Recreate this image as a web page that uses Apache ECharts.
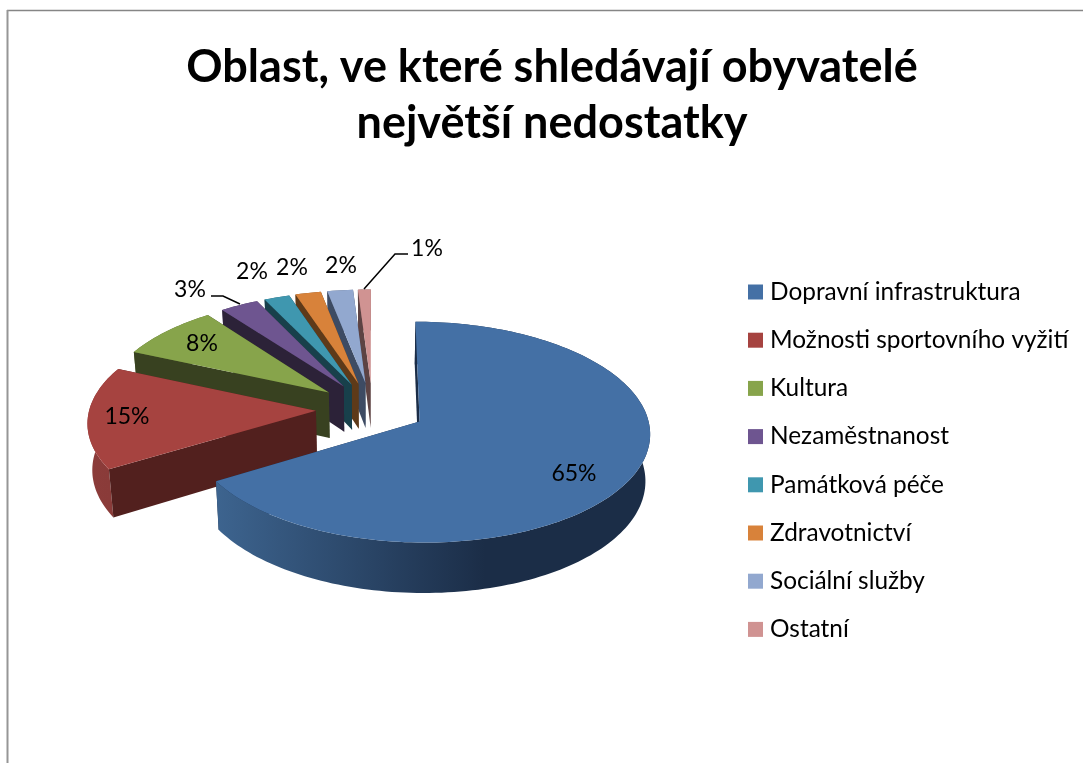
<!DOCTYPE html>
<html>
<head>
<meta charset="utf-8">
<title>Oblast nedostatků</title>
<style>
  html, body { margin: 0; padding: 0; background: #fff; }
  #chart-wrap { width: 1083px; height: 763px; }
</style>
<script src="https://cdn.jsdelivr.net/npm/echarts@6/dist/echarts.min.js"></script>
</head>
<body>
<div id="chart-wrap"></div>
<script>
var categories = ['Dopravní infrastruktura', 'Možnosti sportovního vyžití', 'Kultura', 'Nezaměstnanost', 'Památková péče', 'Zdravotnictví', 'Sociální služby', 'Ostatní'];
var values = [65, 15, 8, 3, 2, 2, 2, 1];
var labels = ['65%', '15%', '8%', '3%', '2%', '2%', '2%', '1%'];

var topColors = ['#4470a5', '#a64340', '#87a44b', '#6e5590', '#3f97af', '#d8823a', '#92a8cf', '#d09392'];
var faceColors = ['#1b2d47', '#52201e', '#384120', '#2c2238', '#18404b', '#5e3a19', '#3d4b63', '#5d4343'];
var arcLeftColors = ['#3d648f', '#8c3c3a', '#56692f', '#46365c', '#286070', '#8a5325', '#5d6b84', '#855e5d'];
var arcRightColors = ['#1b2d47', '#8a3b39', '#56692f', '#46365c', '#286070', '#8a5325', '#5d6b84', '#855e5d'];

// label centres, px
var labelX = [574, 127, 202, 190, 252, 292, 341, 427];
var labelY = [474, 417, 344, 290, 272, 268, 266, 249];

// pie projection
var pie = { x: 372.5, y: 409, rx: 226.5, ry: 107, persp: 0.095, shrink: 0.983 };
var explode = [0.236, 0.25, 0.25, 0.25, 0.25, 0.25, 0.25, 0.25];
var total = 0;
for (var n = 0; n < values.length; n++) {
  total += values[n];
}

function project(U, V, low) {
  var s = 1 / (1 - pie.persp * V);
  var x = pie.x + pie.rx * U * s;
  var y = pie.y + pie.ry * V * s;
  if (low) {
    x = pie.x + (x - pie.x) * pie.shrink;
    y = y + 46 + 4 * V;
  }
  return [x, y];
}

// one slice, angles clockwise from the top
function drawSlice(i, val) {
  var before = 0;
  for (var j = 0; j < i; j++) {
    before += values[j];
  }
  var a0 = before / total * Math.PI * 2;
  var a1 = (before + val) / total * Math.PI * 2;
  var mid = (a0 + a1) / 2;
  var ox = Math.sin(mid) * explode[i];
  var oy = -Math.cos(mid) * explode[i];
  var steps = Math.max(4, Math.round((a1 - a0) * 40));

  var arcTop = [];
  var arcLow = [];
  for (var k = 0; k <= steps; k++) {
    var a = a0 + (a1 - a0) * k / steps;
    arcTop.push(project(ox + Math.sin(a), oy - Math.cos(a), false));
    arcLow.push(project(ox + Math.sin(a), oy - Math.cos(a), true));
  }
  var apexTop = project(ox, oy, false);
  var apexLow = project(ox, oy, true);

  var children = [];
  // far radial face
  children.push({
    type: 'polygon',
    shape: { points: [apexTop, arcTop[steps], arcLow[steps], apexLow] },
    style: { fill: faceColors[i] }
  });
  // outer wall
  children.push({
    type: 'polygon',
    shape: { points: arcTop.concat(arcLow.slice().reverse()) },
    style: {
      fill: new echarts.graphic.LinearGradient(0, 0, 1, 0, [
        { offset: 0, color: arcLeftColors[i] },
        { offset: 0.62, color: arcRightColors[i] },
        { offset: 1, color: arcRightColors[i] }
      ])
    }
  });
  // near radial face
  children.push({
    type: 'polygon',
    shape: { points: [apexTop, arcTop[0], arcLow[0], apexLow] },
    style: { fill: faceColors[i] }
  });
  // top
  children.push({
    type: 'polygon',
    shape: { points: [apexTop].concat(arcTop) },
    style: { fill: topColors[i] }
  });
  return children;
}

function makeSeries(i) {
  return {
    name: categories[i],
    type: 'custom',
    coordinateSystem: 'none',
    silent: true,
    z: 10 - i,
    itemStyle: { color: topColors[i] },
    data: [{ name: categories[i], value: values[i] }],
    renderItem: function (params, api) {
      var children = drawSlice(i, api.value(0));
      children.push({
        type: 'text',
        style: {
          text: labels[i],
          x: labelX[i],
          y: labelY[i],
          fill: '#000',
          font: '23px Lato, sans-serif',
          textAlign: 'center',
          textVerticalAlign: 'middle'
        }
      });
      return { type: 'group', children: children };
    }
  };
}

var series = [];
for (var m = 0; m < categories.length; m++) {
  series.push(makeSeries(m));
}

var myChart = echarts.init(document.getElementById('chart-wrap'), null, { renderer: 'canvas' });
var option = {
  animation: false,
  backgroundColor: '#fff',
  title: {
    text: 'Oblast, ve které shledávají obyvatelé\nnejvětší nedostatky',
    left: 547,
    top: 34,
    textAlign: 'center',
    textStyle: {
      color: '#000',
      fontFamily: 'Lato, sans-serif',
      fontWeight: 'bold',
      fontSize: 45,
      lineHeight: 56
    }
  },
  legend: {
    orient: 'vertical',
    left: 743,
    top: 275,
    data: categories,
    icon: 'rect',
    itemWidth: 15,
    itemHeight: 15,
    itemGap: 24.2,
    selectedMode: false,
    textStyle: { color: '#000', fontFamily: 'Lato, sans-serif', fontSize: 24.4, padding: [0, 0, 0, 2] }
  },
  graphic: [
    { type: 'line', silent: true, shape: { x1: 7, y1: 10.5, x2: 1083, y2: 10.5 }, style: { stroke: '#868686', lineWidth: 1.5 } },
    { type: 'line', silent: true, shape: { x1: 7.5, y1: 10, x2: 7.5, y2: 763 }, style: { stroke: '#969696', lineWidth: 2 } },
    // leader lines
    { type: 'polyline', silent: true, z: 20, shape: { points: [[211, 296], [223, 296], [240, 304]] }, style: { stroke: '#000', lineWidth: 1.5, fill: null } },
    { type: 'polyline', silent: true, z: 20, shape: { points: [[408, 254], [395, 254], [364, 289]] }, style: { stroke: '#000', lineWidth: 1.5, fill: null } }
  ],
  series: series
};
myChart.setOption(option);
</script>
</body>
</html>
